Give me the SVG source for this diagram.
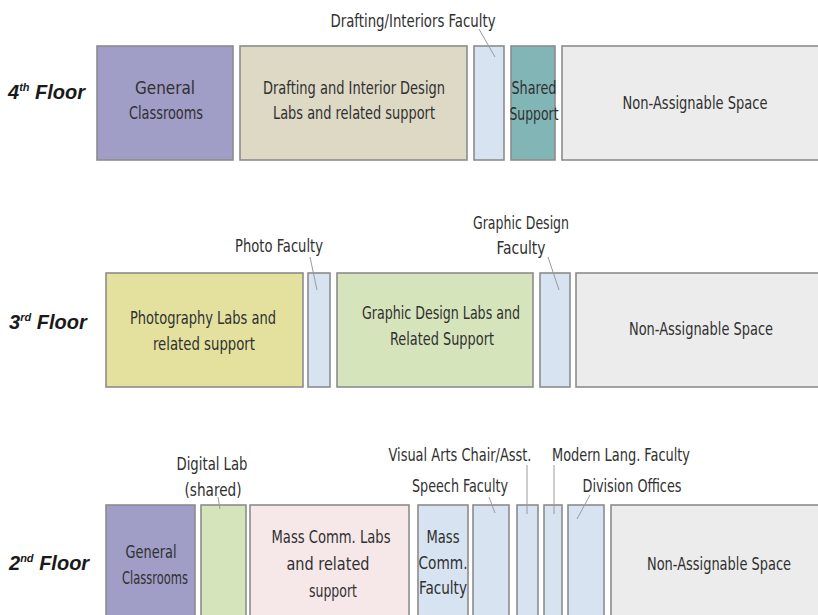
<svg xmlns="http://www.w3.org/2000/svg" width="818" height="615" viewBox="0 0 818 615">
<style>
.b{stroke:#8c8c8c;stroke-width:1.6}
.t{font-family:"Liberation Sans Narrow","DejaVu Sans Condensed","Liberation Sans",sans-serif;font-size:17px;fill:#303030;text-anchor:middle}
.fl{font-family:"Liberation Sans","Arial",sans-serif;font-size:20px;font-weight:bold;font-style:italic;fill:#1a1a1a}
.sup{font-size:11px}
.purple{fill:#a09dc6}
.beige{fill:#ddd9c4}
.blue{fill:#d7e3f1}
.teal{fill:#82b5b6}
.gray{fill:#ececec}
.yellow{fill:#e3e19d}
.green{fill:#d6e4bc}
.pink{fill:#f6e8e8}
.ld{stroke:#9a9a9a;stroke-width:1;fill:none}
</style>
<rect width="818" height="615" fill="#ffffff"/>

<!-- Floor labels -->
<g id="label-4th"><text class="fl" x="8" y="99">4<tspan class="sup" dy="-8">th</tspan><tspan dy="8"> Floor</tspan></text></g>
<g id="label-3rd"><text class="fl" x="9" y="329">3<tspan class="sup" dy="-8">rd</tspan><tspan dy="8"> Floor</tspan></text></g>
<g id="label-2nd"><text class="fl" x="9" y="570">2<tspan class="sup" dy="-8">nd</tspan><tspan dy="8"> Floor</tspan></text></g>

<!-- 4th floor -->
<g id="f4-general">
<rect class="b purple" x="97" y="46" width="136" height="114"/>
<text class="t" x="165" y="94" textLength="60" lengthAdjust="spacingAndGlyphs">General</text>
<text class="t" x="166" y="119" textLength="74" lengthAdjust="spacingAndGlyphs">Classrooms</text>
</g>
<g id="f4-drafting">
<rect class="b beige" x="240" y="46" width="227" height="114"/>
<text class="t" x="354" y="94" textLength="182" lengthAdjust="spacingAndGlyphs">Drafting and Interior Design</text>
<text class="t" x="354" y="119" textLength="162" lengthAdjust="spacingAndGlyphs">Labs and related support</text>
</g>
<g id="f4-faculty">
<rect class="b blue" x="474" y="46" width="30" height="114"/>
<text class="t" x="413" y="27" textLength="165" lengthAdjust="spacingAndGlyphs">Drafting/Interiors Faculty</text>
</g>
<g id="f4-shared">
<rect class="b teal" x="511" y="46" width="44" height="114"/>
<text class="t" x="534" y="94" textLength="45" lengthAdjust="spacingAndGlyphs">Shared</text>
<text class="t" x="534" y="120" textLength="49" lengthAdjust="spacingAndGlyphs">Support</text>
</g>
<g id="f4-nonassign">
<rect class="b gray" x="562" y="46" width="270" height="114"/>
<text class="t" x="695" y="109" textLength="145" lengthAdjust="spacingAndGlyphs">Non-Assignable Space</text>
</g>

<!-- 3rd floor -->
<g id="f3-photo">
<rect class="b yellow" x="106" y="273" width="197" height="114"/>
<text class="t" x="203" y="324" textLength="146" lengthAdjust="spacingAndGlyphs">Photography Labs and</text>
<text class="t" x="204" y="350" textLength="102" lengthAdjust="spacingAndGlyphs">related support</text>
</g>
<g id="f3-photo-faculty">
<rect class="b blue" x="308" y="273" width="22" height="114"/>
<text class="t" x="279" y="252" textLength="88" lengthAdjust="spacingAndGlyphs">Photo Faculty</text>
</g>
<g id="f3-graphic">
<rect class="b green" x="337" y="273" width="196" height="114"/>
<text class="t" x="441" y="319" textLength="158" lengthAdjust="spacingAndGlyphs">Graphic Design Labs and</text>
<text class="t" x="442" y="345" textLength="104" lengthAdjust="spacingAndGlyphs">Related Support</text>
</g>
<g id="f3-gd-faculty">
<rect class="b blue" x="540" y="273" width="30" height="114"/>
<text class="t" x="521" y="229" textLength="96" lengthAdjust="spacingAndGlyphs">Graphic Design</text>
<text class="t" x="521" y="254" textLength="49" lengthAdjust="spacingAndGlyphs">Faculty</text>
</g>
<g id="f3-nonassign">
<rect class="b gray" x="576" y="273" width="260" height="114"/>
<text class="t" x="701" y="335" textLength="144" lengthAdjust="spacingAndGlyphs">Non-Assignable Space</text>
</g>

<!-- 2nd floor -->
<g id="f2-general">
<rect class="b purple" x="106" y="505" width="89" height="120"/>
<text class="t" x="151" y="558" textLength="51" lengthAdjust="spacingAndGlyphs">General</text>
<text class="t" x="155" y="584" textLength="66" lengthAdjust="spacingAndGlyphs">Classrooms</text>
</g>
<g id="f2-digital">
<rect class="b green" x="201" y="505" width="45" height="120"/>
<text class="t" x="212" y="470" textLength="71" lengthAdjust="spacingAndGlyphs">Digital Lab</text>
<text class="t" x="213" y="496" textLength="57" lengthAdjust="spacingAndGlyphs">(shared)</text>
</g>
<g id="f2-masscomm">
<rect class="b pink" x="250" y="505" width="159" height="120"/>
<text class="t" x="331" y="543" textLength="119" lengthAdjust="spacingAndGlyphs">Mass Comm. Labs</text>
<text class="t" x="328" y="570" textLength="83" lengthAdjust="spacingAndGlyphs">and related</text>
<text class="t" x="333" y="597" textLength="48" lengthAdjust="spacingAndGlyphs">support</text>
</g>
<g id="f2-mc-faculty">
<rect class="b blue" x="418" y="505" width="50" height="120"/>
<text class="t" x="443" y="543" textLength="33" lengthAdjust="spacingAndGlyphs">Mass</text>
<text class="t" x="443" y="569" textLength="49" lengthAdjust="spacingAndGlyphs">Comm.</text>
<text class="t" x="443" y="594" textLength="48" lengthAdjust="spacingAndGlyphs">Faculty</text>
</g>
<g id="f2-speech">
<rect class="b blue" x="473" y="505" width="36" height="120"/>
<text class="t" x="460" y="492" textLength="96" lengthAdjust="spacingAndGlyphs">Speech Faculty</text>
</g>
<g id="f2-chair">
<rect class="b blue" x="517" y="505" width="21" height="120"/>
<text class="t" x="460" y="461" textLength="143" lengthAdjust="spacingAndGlyphs">Visual Arts Chair/Asst.</text>
</g>
<g id="f2-modlang">
<rect class="b blue" x="544" y="505" width="18" height="120"/>
<text class="t" x="621" y="461" textLength="138" lengthAdjust="spacingAndGlyphs">Modern Lang. Faculty</text>
</g>
<g id="f2-division">
<rect class="b blue" x="568" y="505" width="36" height="120"/>
<text class="t" x="632" y="492" textLength="99" lengthAdjust="spacingAndGlyphs">Division Offices</text>
</g>
<g id="f2-nonassign">
<rect class="b gray" x="611" y="505" width="225" height="120"/>
<text class="t" x="719" y="570" textLength="144" lengthAdjust="spacingAndGlyphs">Non-Assignable Space</text>
</g>

<!-- Leader lines -->
<g id="connectors">
<line class="ld" x1="479" y1="29" x2="495" y2="57"/>
<line class="ld" x1="310" y1="257" x2="317" y2="290"/>
<line class="ld" x1="548" y1="257" x2="559" y2="290"/>
<line class="ld" x1="218" y1="497" x2="220" y2="509"/>
<line class="ld" x1="489" y1="497" x2="495" y2="513"/>
<line class="ld" x1="527" y1="465" x2="527" y2="514"/>
<line class="ld" x1="554" y1="465" x2="554" y2="514"/>
<line class="ld" x1="590" y1="495" x2="577" y2="519"/>
</g>
</svg>
